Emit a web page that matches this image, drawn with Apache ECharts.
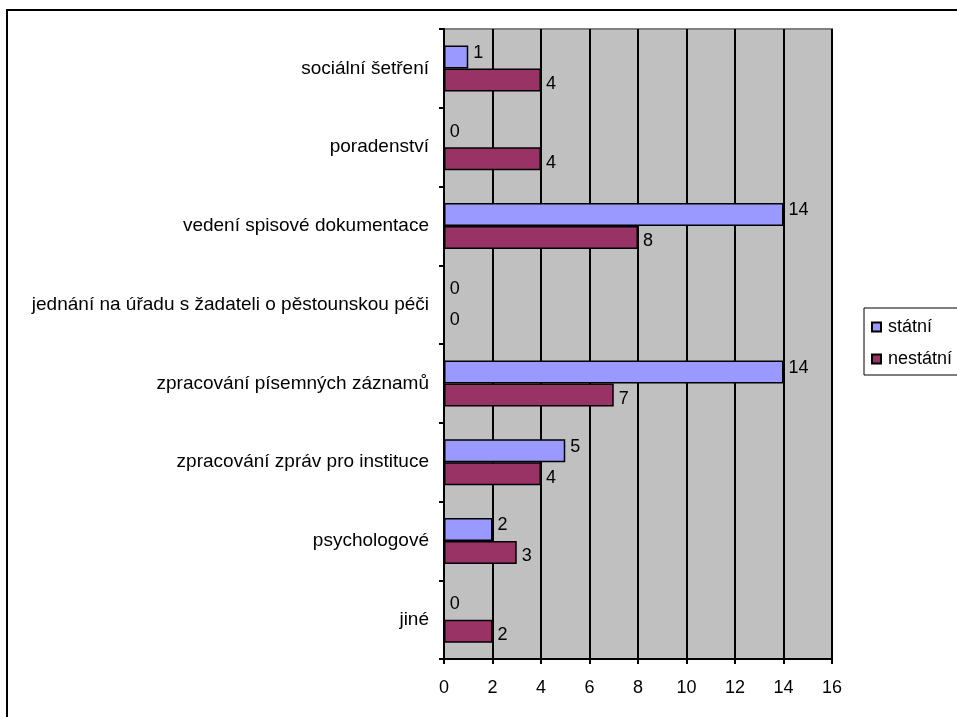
<!DOCTYPE html>
<html>
<head>
<meta charset="utf-8">
<script src="https://cdn.jsdelivr.net/npm/echarts@6/dist/echarts.min.js"></script>
<style>
  html, body { margin: 0; padding: 0; background: #fff; }
  #chart { width: 957px; height: 717px; }
</style>
</head>
<body>
<div id="chart"></div>
<script>
// kategorie shora dolu
var categories = [
  'sociální šetření',
  'poradenství',
  'vedení spisové dokumentace',
  'jednání na úřadu s žadateli o pěstounskou péči',
  'zpracování písemných záznamů',
  'zpracování zpráv pro instituce',
  'psychologové',
  'jiné'
];
var statni = [1, 0, 14, 0, 14, 5, 2, 0];
var nestatni = [4, 4, 8, 0, 7, 4, 3, 2];
var xTicks = { min: 0, max: 16, interval: 2 };

var font = 'Liberation Sans, Arial, sans-serif';
var fs = 18;
var myChart = echarts.init(document.getElementById('chart'));

var option = {
  animation: false,
  backgroundColor: '#ffffff',
  textStyle: { fontFamily: font },
  graphic: [
    { // ramecek kolem grafu
      type: 'rect',
      shape: { x: 7, y: 10, width: 980, height: 740 },
      style: { fill: 'none', stroke: '#000', lineWidth: 2 },
      silent: true,
      z: 0
    }
  ],
  grid: {
    left: 444, right: 125, top: 29, bottom: 58,
    show: true,
    backgroundColor: '#c0c0c0',
    borderColor: '#808080',
    borderWidth: 2
  },
  legend: {
    orient: 'vertical',
    left: 864, top: 308,
    padding: [10, 60, 7, 7],
    itemGap: 14,
    itemWidth: 9, itemHeight: 9,
    icon: 'rect',
    borderColor: '#000', borderWidth: 1,
    backgroundColor: '#fff',
    textStyle: { fontSize: fs, color: '#000', fontFamily: font, padding: [0, 0, 0, 2] },
    data: ['státní', 'nestátní']
  },
  xAxis: {
    type: 'value',
    min: xTicks.min, max: xTicks.max, interval: xTicks.interval,
    axisLine: { show: true, lineStyle: { color: '#000', width: 2 } },
    axisTick: { show: true, length: 5, lineStyle: { color: '#000', width: 2 } },
    axisLabel: { fontSize: fs, color: '#000', margin: 20, fontFamily: font },
    splitLine: { show: true, lineStyle: { color: '#000', width: 2 } }
  },
  yAxis: {
    type: 'category',
    inverse: true,
    data: categories,
    axisLine: { show: true, lineStyle: { color: '#000', width: 2 } },
    axisTick: { show: true, length: 5, lineStyle: { color: '#000', width: 2 } },
    axisLabel: { fontSize: 19, color: '#000', margin: 15, fontFamily: font }
  },
  series: [
    {
      name: 'státní',
      type: 'bar',
      data: statni,
      barWidth: 23,
      barGap: '0%',
      itemStyle: { color: '#9999ff', borderColor: '#000', borderWidth: 1.5 },
      label: { show: true, position: 'right', distance: 5, fontSize: fs, color: '#000', offset: [0, -4], fontFamily: font }
    },
    {
      name: 'nestátní',
      type: 'bar',
      data: nestatni,
      barWidth: 23,
      itemStyle: { color: '#993366', borderColor: '#000', borderWidth: 1.5 },
      label: { show: true, position: 'right', distance: 5, fontSize: fs, color: '#000', offset: [0, 4], fontFamily: font }
    }
  ]
};
myChart.setOption(option);
</script>
</body>
</html>
